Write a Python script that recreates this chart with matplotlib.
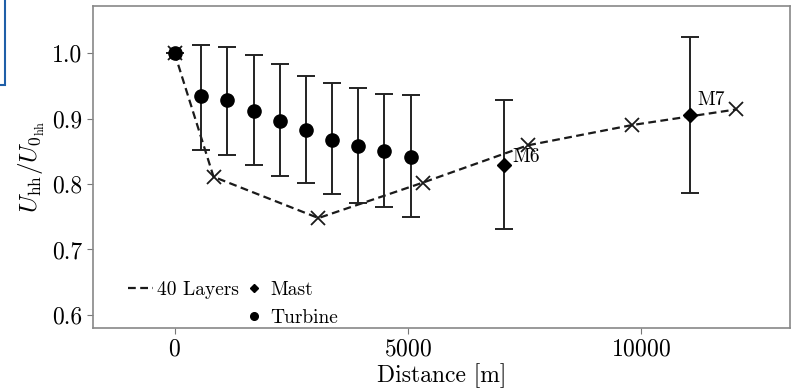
import matplotlib
matplotlib.use("Agg")
import matplotlib.pyplot as plt
from matplotlib.lines import Line2D
from matplotlib.patches import Rectangle

plt.rcParams['font.family'] = 'serif'
plt.rcParams['font.serif'] = ['cmr10', 'DejaVu Serif']
plt.rcParams['mathtext.fontset'] = 'cm'
plt.rcParams['axes.formatter.use_mathtext'] = True

# 40 Layers simulation
layers_x = [0, 836, 3086, 5320, 7571, 9807, 12050]
layers_y = [1.0, 0.811, 0.748, 0.802, 0.859, 0.890, 0.914]

# Turbine measurements
turb_x = [0, 572, 1129, 1700, 2257, 2822, 3379, 3943, 4500, 5072]
turb_y = [1.0, 0.934, 0.929, 0.912, 0.897, 0.882, 0.867, 0.858, 0.851, 0.842]
turb_hi = [1.0, 1.013, 1.009, 0.997, 0.983, 0.965, 0.954, 0.946, 0.938, 0.936]
turb_lo = [1.0, 0.852, 0.845, 0.829, 0.813, 0.801, 0.784, 0.771, 0.765, 0.750]

# Mast measurements
mast_x = [7057, 11057]
mast_y = [0.829, 0.906]
mast_hi = [0.928, 1.025]
mast_lo = [0.731, 0.787]
mast_labels = ['M6', 'M7']

fig = plt.figure(figsize=(7.92, 3.91), dpi=100)
ax = fig.add_axes([0.1174, 0.1611, 0.8801, 0.8236])

col = '#1a1a1a'
ax.plot(layers_x, layers_y, '--', color=col, lw=1.6, marker='x', ms=10,
        mew=1.3, dashes=(3.5, 2), zorder=3)

t_err = [[y - l for y, l in zip(turb_y, turb_lo)], [h - y for y, h in zip(turb_y, turb_hi)]]
ax.errorbar(turb_x, turb_y, yerr=t_err, fmt='o', color='black', ecolor='#222222',
            ms=9.5, elinewidth=1.4, capsize=6.5, capthick=1.4, zorder=4)

m_err = [[y - l for y, l in zip(mast_y, mast_lo)], [h - y for y, h in zip(mast_y, mast_hi)]]
ax.errorbar(mast_x, mast_y, yerr=m_err, fmt='D', color='black', ecolor='#222222',
            ms=7, elinewidth=1.4, capsize=6.5, capthick=1.4, zorder=4)

offsets = {'M6': (6, -1), 'M7': (5, 4)}
for x, y, lab in zip(mast_x, mast_y, mast_labels):
    ax.annotate(lab, (x, y), xytext=offsets[lab], textcoords='offset points',
                fontsize=14, ha='left', va='bottom')

ax.set_xlim(-1750, 13200)
ax.set_ylim(0.58, 1.072)
ax.set_xticks([0, 5000, 10000])
ax.set_yticks([0.6, 0.7, 0.8, 0.9, 1.0])
ax.set_yticklabels(['0.6', '0.7', '0.8', '0.9', '1.0'])
ax.tick_params(labelsize=17, direction='out', length=4, color='#777777')
for s in ax.spines.values():
    s.set_color('#888888')
    s.set_linewidth(1.2)
ax.tick_params(top=False, right=False)

ax.set_xlabel('Distance [m]', fontsize=17, labelpad=2)
ax.set_ylabel(r'$U_{\rm hh}/U_{0_{\rm hh}}$', fontsize=18, labelpad=4)

h_line = Line2D([], [], ls='--', color=col, lw=1.6, dashes=(3.5, 2))
h_blank = Line2D([], [], ls='none')
h_mast = Line2D([], [], ls='none', marker='D', color='black', ms=4.5)
h_turb = Line2D([], [], ls='none', marker='o', color='black', ms=5.5)
ax.legend([h_line, h_blank, h_mast, h_turb], ['40 Layers', '', 'Mast', 'Turbine'],
          ncol=2, loc='lower left', bbox_to_anchor=(0.025, -0.05), frameon=False,
          fontsize=14, handlelength=1.3, handletextpad=0.2, columnspacing=0.1,
          labelspacing=0.5)

# blue box artifact at top-left
fig.patches.append(Rectangle((-0.05, 1 - 85 / 391), 0.05 + 5 / 792, 0.3,
                             transform=fig.transFigure, fill=True, facecolor='white',
                             edgecolor='#1f5fa8', lw=1.5, zorder=10))

fig.savefig('out.png', dpi=100)
